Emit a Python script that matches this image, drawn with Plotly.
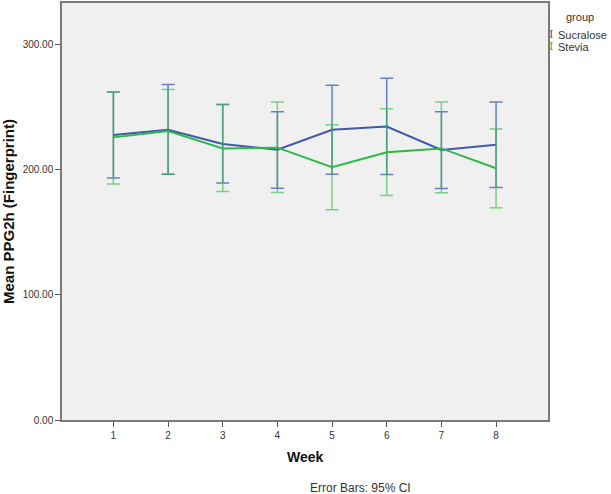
import plotly.graph_objects as go

weeks = [1, 2, 3, 4, 5, 6, 7, 8]

sucralose_mean = [227.5, 231.8, 220.4, 215.8, 231.8, 234.4, 215.6, 219.8]
sucralose_lower = [193.3, 196.3, 189.3, 185.1, 196.3, 196.0, 184.8, 185.6]
sucralose_upper = [262.0, 267.9, 251.9, 246.1, 267.3, 272.9, 246.1, 254.0]

stevia_mean = [225.7, 230.7, 216.9, 217.5, 201.8, 213.8, 216.9, 201.0]
stevia_lower = [188.5, 196.3, 182.4, 181.6, 167.9, 179.3, 181.4, 169.5]
stevia_upper = [262.0, 263.9, 251.9, 254.0, 235.7, 248.5, 254.0, 232.3]

y_ticks = [0, 100, 200, 300]
x_ticks = weeks

blue = "#3E58AC"
green = "#2EB848"
blue_err = "rgba(62,88,172,0.75)"
green_err = "rgba(46,184,72,0.6)"

fig = go.Figure()


def add_series(name, mean, lower, upper, color, ecolor):
    fig.add_trace(go.Scatter(
        x=weeks, y=mean, mode="lines", name=name,
        line=dict(color=color, width=2),
        error_y=dict(
            type="data", symmetric=False,
            array=[u - m for u, m in zip(upper, mean)],
            arrayminus=[m - l for m, l in zip(mean, lower)],
            color=ecolor, thickness=1.5, width=6.5,
        ),
        showlegend=False,
        hoverinfo="skip",
    ))


add_series("Sucralose", sucralose_mean, sucralose_lower, sucralose_upper, blue, blue_err)
add_series("Stevia", stevia_mean, stevia_lower, stevia_upper, green, green_err)

axis_common = dict(
    showline=True, linecolor="#7a7a7a", linewidth=1.5, mirror=True,
    ticks="outside", ticklen=5, tickcolor="#555555", tickwidth=1,
    showgrid=False, zeroline=False,
    tickfont=dict(family="Liberation Sans, Arial, sans-serif", size=10, color="#333333"),
)

fig.update_layout(
    width=611, height=494,
    margin=dict(l=62, r=63, t=1, b=74),
    paper_bgcolor="white",
    plot_bgcolor="#F0F0F0",
    xaxis=dict(range=[0.06, 8.95], tickvals=x_ticks, **axis_common),
    yaxis=dict(range=[0, 333], tickvals=y_ticks, tickformat=".2f", **axis_common),
    font=dict(family="Liberation Sans, Arial, sans-serif"),
)

annots = [
    dict(text="<b>Week</b>", x=0.5, y=457, font=dict(size=14, color="#111111")),
    dict(text="Error Bars: 95% CI", x=(360 - 62) / 486, y=488, font=dict(size=12, color="#333333")),
    dict(text="group", x=(579.5 - 62) / 486, y=15, font=dict(size=11, color="#333333")),
]
for a in annots:
    fig.add_annotation(
        text=a["text"], xref="paper", yref="paper",
        x=a["x"], y=-(a["y"] - 420) / 419 if a["y"] > 420 else 1 - (a["y"] - 1) / 419,
        showarrow=False, xanchor="center", yanchor="middle", font=a["font"],
    )

fig.add_annotation(
    text="<b>Mean PPG2h (Fingerprint)</b>", xref="paper", yref="paper",
    x=(9 - 62) / 486, y=1 - (211 - 1) / 419, textangle=-90,
    showarrow=False, xanchor="center", yanchor="middle",
    font=dict(size=15, color="#111111"),
)

for name, color, yc in [("Sucralose", blue, 33), ("Stevia", green, 45)]:
    yp = 1 - (yc - 1) / 419
    fig.add_annotation(
        text="I", xref="paper", yref="paper", x=(551 - 62) / 486, y=yp,
        showarrow=False, xanchor="center", yanchor="middle",
        font=dict(family="DejaVu Serif, serif", size=11, color=color),
    )
    fig.add_annotation(
        text=name, xref="paper", yref="paper", x=(556 - 62) / 486, y=yp,
        showarrow=False, xanchor="left", yanchor="middle",
        font=dict(size=11, color="#333333"),
    )

fig.write_html(
    "out.html",
    config={"displayModeBar": False},
    post_script="document.body.style.margin='0';document.body.style.padding='0';",
)
